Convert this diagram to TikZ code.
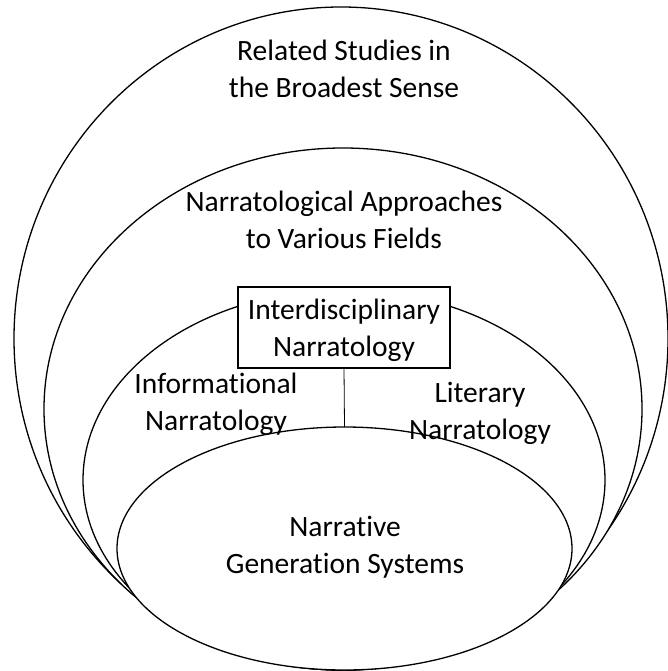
\documentclass[tikz,border=0pt]{standalone}
\usepackage{fontspec}
\setmainfont{Carlito}[Ligatures=NoCommon]
\usetikzlibrary{shapes.geometric}
\begin{document}
\begin{tikzpicture}[x=1pt,y=-1pt,
  ring/.style={ellipse, draw, fill=white, line width=1.3pt, inner sep=0pt, outer sep=0pt},
  txt/.style={align=center, font=\fontsize{29.5}{37}\selectfont, inner sep=0pt},
  titlebox/.style={draw, fill=white, line width=1.3pt, minimum width=212pt,
    minimum height=81pt, inner sep=0pt, outer sep=0pt}]
\useasboundingbox (0,0) rectangle (667,671);
% nested fields, each filled white so inner ones hide the lower arcs
\node[ring, minimum width=654pt, minimum height=663pt] (broad) at (341,338.5) {};
\node[ring, minimum width=598pt, minimum height=522pt] (fields) at (343,409) {};
\node[ring, minimum width=522pt, minimum height=380pt] (inter) at (344,480) {};
\node[titlebox] (box) at (344,327.5) {};
\node[ring, minimum width=455pt, minimum height=243pt] (gen) at (344.5,548.5) {};
\draw[line width=0.8pt] (box.south) -- (gen.north);
% labels
\node[txt] (tbox) at (344,330.5) {Interdisciplinary\\Narratology};
\node[txt] (tbroad) at (344,69) {Related Studies in\\the Broadest Sense};
\node[txt] (tfields) at (344,219.5) {Narratological Approaches\\to Various Fields};
\node[txt] (tinfo) at (216,404) {Informational\\Narratology};
\node[txt] (tlit) at (480,413) {Literary\\Narratology};
\node[txt] (tgen) at (345,547) {Narrative\\Generation Systems};
\end{tikzpicture}
\end{document}
